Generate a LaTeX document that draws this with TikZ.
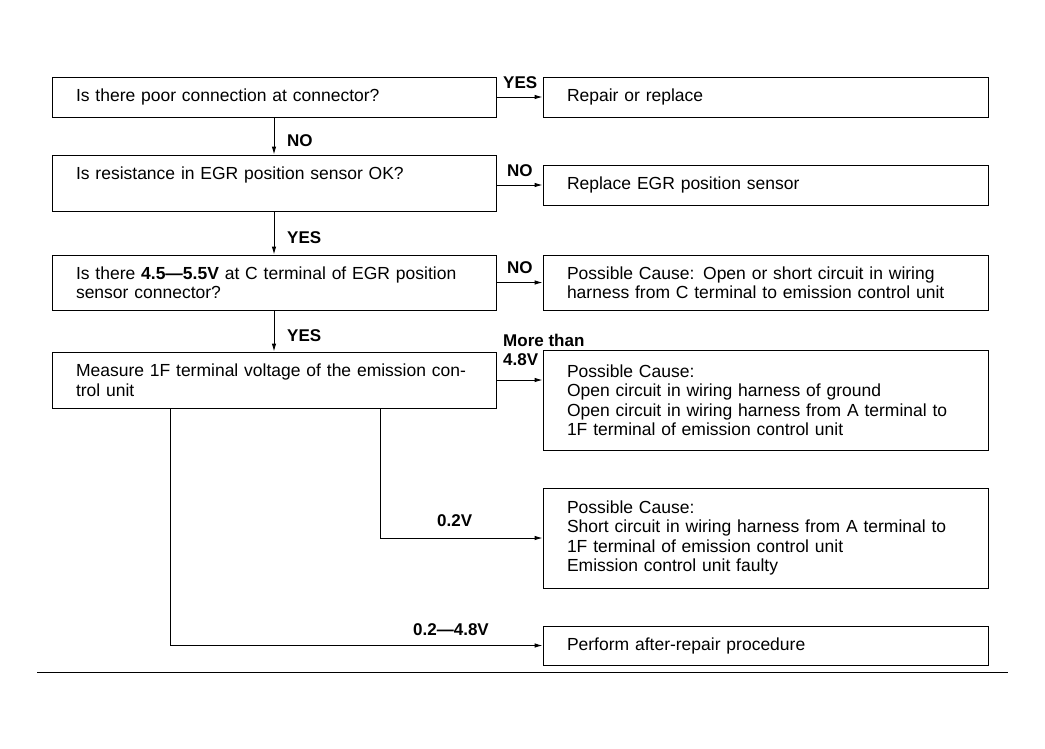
\documentclass[tikz,border=0pt]{standalone}
\usepackage{fontspec}
\setmainfont{Liberation Sans}
\usetikzlibrary{arrows.meta,calc}
\begin{document}
\begin{tikzpicture}[x=1pt,y=-1pt,
  box/.style={draw,line width=0.9pt,rectangle,inner xsep=24pt,inner ysep=0pt,
    text width=397pt,align=left,font=\fontsize{17.5}{19.5}\selectfont},
  lbox/.style={box,text width=396pt},
  conn/.style={line width=0.9pt,-{Latex[length=8pt,width=4.5pt]}},
  drop/.style={line width=0.6pt},
  lab/.style={font=\fontsize{17}{19}\selectfont\bfseries,inner sep=0pt,align=left}]
\useasboundingbox[fill=white] (0,0) rectangle (1045,748);
% left column
\node[lbox,minimum height=40pt] (b1) at (274,97) {Is there poor connection at connector?};
\node[lbox,minimum height=56pt] (b2) at (274,183) {Is resistance in EGR position sensor OK?\\\mbox{}};
\node[lbox,minimum height=55pt] (b3) at (274,282.5) {Is there \textbf{4.5---5.5V} at C terminal of EGR position\\sensor connector?};
\node[lbox,minimum height=56pt] (b4) at (274,380) {Measure 1F terminal voltage of the emission con-\\trol unit};
% right column
\node[box,minimum height=40pt] (r1) at (765.5,97) {Repair or replace};
\node[box,minimum height=40pt] (r2) at (765.5,185) {Replace EGR position sensor};
\node[box,minimum height=55pt] (r3) at (765.5,282.5) {Possible Cause: Open or short circuit in wiring\\harness from C terminal to emission control unit};
\node[box,minimum height=100pt] (r4) at (765.5,400) {Possible Cause:\\Open circuit in wiring harness of ground\\Open circuit in wiring harness from A terminal to\\1F terminal of emission control unit};
\node[box,minimum height=100pt] (r5) at (765.5,538) {Possible Cause:\\Short circuit in wiring harness from A terminal to\\1F terminal of emission control unit\\Emission control unit faulty};
\node[box,minimum height=39pt] (r6) at (765.5,645.5) {Perform after-repair procedure};
% vertical flow
\draw[conn] (b1.south) -- (b2.north);
\draw[conn] (b2.south) -- (b3.north);
\draw[conn] (b3.south) -- (b4.north);
% horizontal branches
\draw[conn] (b1.east) -- (r1.west);
\draw[conn] (b2.east |- r2.west) -- (r2.west);
\draw[conn] (b3.east) -- (r3.west);
\draw[conn] (b4.east) -- (b4.east -| r4.west);
\coordinate (d1) at (380,408);
\coordinate (d2) at (170,408);
\draw[drop] (d1) -- (d1 |- r5.west);
\draw[conn] (d1 |- r5.west) -- (r5.west);
\draw[drop] (d2) -- (d2 |- r6.west);
\draw[conn] (d2 |- r6.west) -- (r6.west);
% labels
\node[lab,anchor=west] (l1) at (503,83) {YES};
\node[lab,anchor=west] (l2) at (287,141) {NO};
\node[lab,anchor=west] (l3) at (507,171) {NO};
\node[lab,anchor=west] (l4) at (287,238) {YES};
\node[lab,anchor=west] (l5) at (507,268) {NO};
\node[lab,anchor=west] (l6) at (287,336) {YES};
\node[lab,anchor=north west] (l7) at (503,334) {More than\\4.8V};
\node[lab,anchor=west] (l8) at (437,521) {0.2V};
\node[lab,anchor=west] (l9) at (413,630) {0.2---4.8V};
% bottom rule
\coordinate (h1) at (37,672);
\coordinate (h2) at (1008,672);
\draw[line width=0.9pt] (h1) -- (h2);
\end{tikzpicture}
\end{document}
